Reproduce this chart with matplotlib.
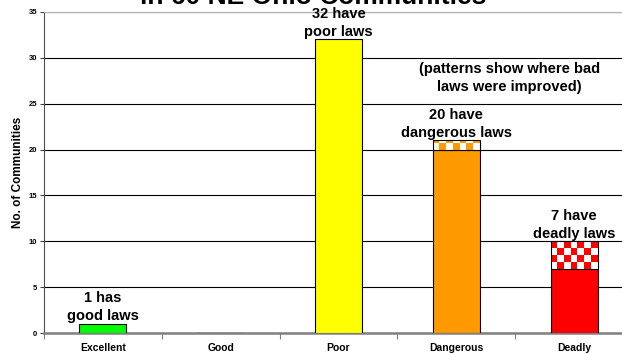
import matplotlib
matplotlib.use("Agg")
import matplotlib.pyplot as plt
import numpy as np
from matplotlib.colors import ListedColormap
from matplotlib.patches import Rectangle

categories = ["Excellent", "Good", "Poor", "Dangerous", "Deadly"]
current = [1, 0, 32, 20, 7]      # solid part of each bar
improved = [0, 0, 0, 1, 3]       # patterned part: bad laws that were improved
bar_colors = ["#00ff00", "#00ff00", "#ffff00", "#ff9900", "#ff0000"]
bar_labels = ["1 has\ngood laws", "", "32 have\npoor laws",
              "20 have\ndangerous laws", "7 have\ndeadly laws"]
yticks = [0, 5, 10, 15, 20, 25, 30, 35]

plt.rcParams["font.family"] = ["Liberation Sans", "DejaVu Sans"]
plt.rcParams["font.weight"] = "bold"
plt.rcParams["axes.labelweight"] = "bold"

fig = plt.figure(figsize=(6.22, 3.54), dpi=100)
ax = fig.add_axes([0.0707, 0.0593, 0.947, 0.907])

x = np.arange(len(categories)) + 0.5
w = 0.4
ax.bar(x, current, width=w, color=bar_colors, edgecolor="black",
       linewidth=0.8, zorder=3)

# checkerboard on top of the bars where laws were improved
check_h = 0.75
ncols = 7
for xi, base, extra, col in zip(x, current, improved, bar_colors):
    if extra <= 0:
        continue
    nrows = int(np.ceil(extra / check_h))
    xe = np.linspace(xi - w / 2, xi + w / 2, ncols + 1)
    ye = base + np.arange(nrows + 1) * check_h
    board = (np.indices((nrows, ncols)).sum(axis=0) + nrows - 1) % 2
    mesh = ax.pcolormesh(xe, ye, board, cmap=ListedColormap([col, "white"]),
                         zorder=3)
    rect = Rectangle((xi - w / 2, base), w, extra, facecolor="none",
                     edgecolor="black", linewidth=0.8, zorder=4)
    ax.add_patch(rect)
    mesh.set_clip_path(rect)

for xi, base, extra, lab in zip(x, current, improved, bar_labels):
    if lab:
        ax.annotate(lab, (xi, base + extra), xytext=(0, 0.5),
                    textcoords="offset points", ha="center", va="bottom",
                    fontsize=10.5, linespacing=1.35)

ax.text(3.95, 27.8, "(patterns show where bad\nlaws were improved)",
        ha="center", va="center", fontsize=10.5, linespacing=1.3)

ax.set_xlim(0, 5)
ax.set_ylim(0, 35)
ax.set_xticks(np.arange(0, 6))
ax.set_xticklabels([])
ax.set_xticks(x, minor=True)
ax.set_xticklabels(categories, minor=True, fontsize=7.5, fontweight="bold")
ax.tick_params(axis="x", which="major", length=4, color="#808080")
ax.tick_params(axis="x", which="minor", length=0, pad=7)
ax.set_yticks(yticks)
ax.set_yticklabels([str(v) for v in yticks], fontweight="bold")
ax.tick_params(axis="y", length=3, labelsize=5.5, pad=2, color="#404040")
ax.set_ylabel("No. of Communities", fontsize=8.5, fontweight="bold",
              labelpad=3)

ax.yaxis.grid(True, color="black", linewidth=0.8, zorder=0)
ax.set_axisbelow(True)
ax.spines["right"].set_visible(False)
ax.spines["top"].set_color("#b0b0b0")
ax.spines["left"].set_color("#505050")
ax.spines["bottom"].set_color("#808080")
ax.spines["bottom"].set_linewidth(1.8)

fig.text(0.503, 1 - 4 / 354, "in 60 NE Ohio Communities", ha="center",
         va="baseline", fontsize=19)

fig.savefig("out.png", dpi=100)
